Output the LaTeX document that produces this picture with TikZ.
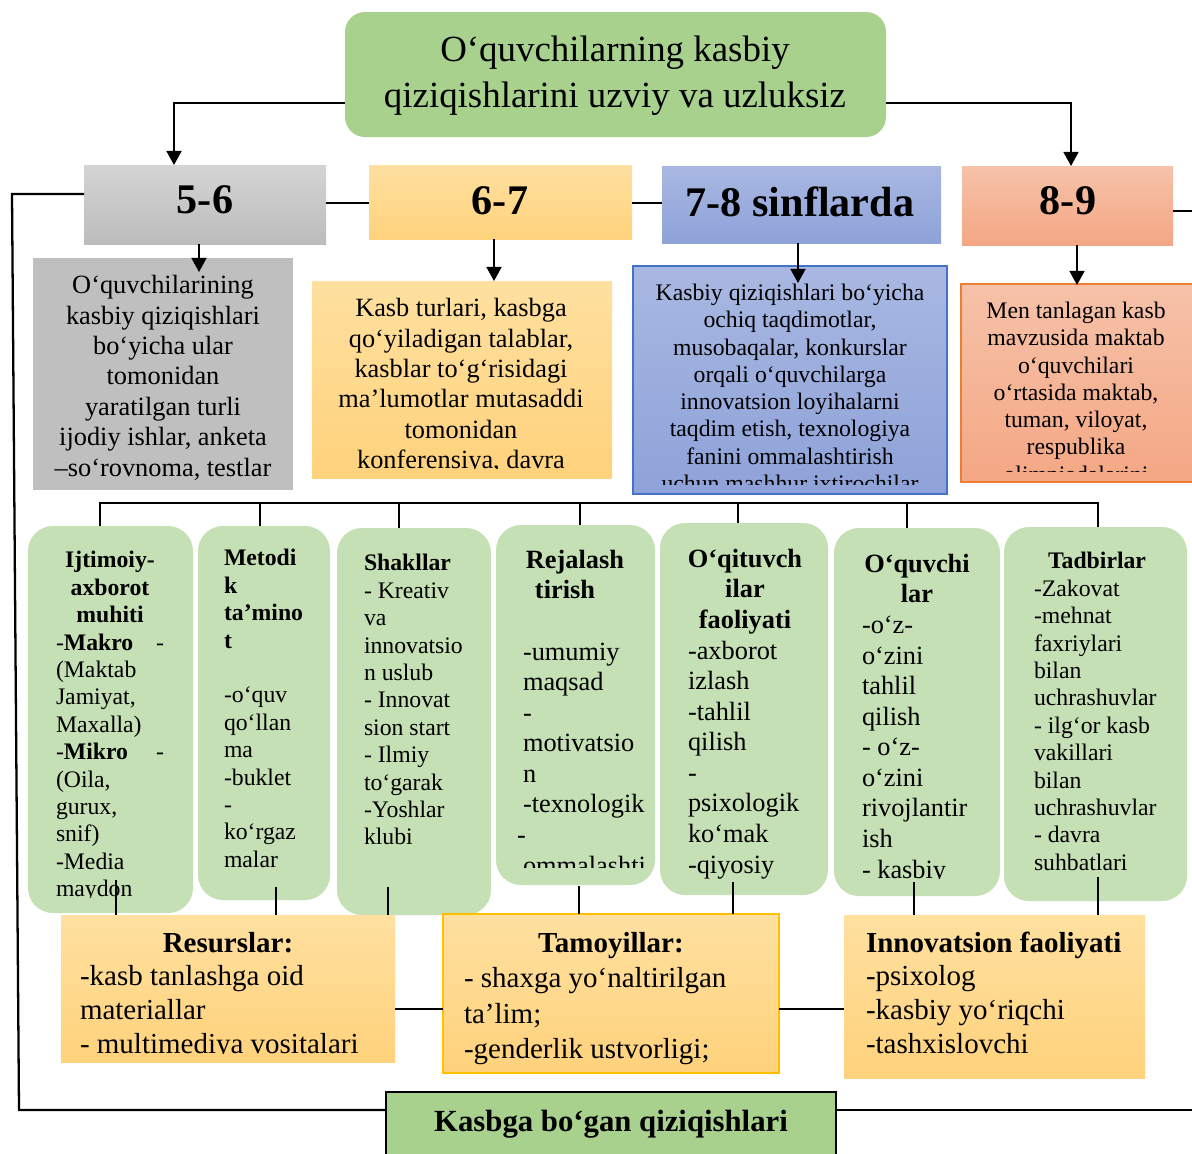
\documentclass[tikz,border=0pt]{standalone}
\usepackage{fontspec}
\setmainfont{Liberation Serif}
\usetikzlibrary{arrows.meta,fit}
\definecolor{titlegreen}{HTML}{A9D18E}
\definecolor{boxgreen}{HTML}{C5E0B4}
\definecolor{grayA}{HTML}{D4D4D4}
\definecolor{grayB}{HTML}{BCBCBC}
\definecolor{descgray}{HTML}{BFBFBF}
\definecolor{orA}{HTML}{FFE0A0}
\definecolor{orB}{HTML}{FFD27C}
\definecolor{blA}{HTML}{A9B8E2}
\definecolor{blB}{HTML}{8EA2D9}
\definecolor{blborder}{HTML}{4472C4}
\definecolor{saA}{HTML}{F6C2A9}
\definecolor{saB}{HTML}{F4A784}
\definecolor{saborder}{HTML}{ED7D31}
\definecolor{gold}{HTML}{FFC000}
\newcommand\fs[2]{\fontsize{#1}{#2}\selectfont}
\begin{document}
\begin{tikzpicture}[x=0.02cm,y=-0.02cm,
  box/.style={inner sep=0pt, outer sep=0pt, draw=none},
  conn/.style={line width=1.1pt, black},
  arr/.style={conn, -{Triangle[length=8pt,width=8.5pt]}},
  txt/.style={inner sep=0pt, outer sep=0pt, anchor=north west, align=left},
  ctxt/.style={inner sep=0pt, outer sep=0pt, anchor=north, align=center},
  gradelabel/.style={inner sep=0pt, outer sep=0pt, font=\bfseries\fs{24}{28}},
  orangebox/.style={box, top color=orA, bottom color=orB},
  greenbox/.style={box, fill=boxgreen, rounded corners=0.5cm},
  small/.style={font=\fs{13.5}{15.6}},
  mid/.style={font=\fs{15}{17.4}},
  large/.style={font=\fs{16.5}{19.3}}
]
\fill[white] (0,0) rectangle (1192,1153);
\useasboundingbox (0,0) rectangle (1192,1153);

% title
\node[box, fill=titlegreen, rounded corners=0.4cm, fit={(345,12)(886,137)}] (title) {};
\node[ctxt, font=\fs{21}{26}] (titletext) at (615,29.5) {\strut O‘quvchilarning kasbiy\\qiziqishlarini uzviy va uzluksiz};

% grade boxes
\node[box, top color=grayA, bottom color=grayB, fit={(84,165)(326,244)}] (g56) {};
\node[box, top color=orA, bottom color=orB, fit={(369,165)(632,239)}] (g67) {};
\node[box, top color=blA, bottom color=blB, fit={(662,166)(941,243)}] (g78) {};
\node[box, top color=saA, bottom color=saB, fit={(962,166)(1173,245)}] (g89) {};
\node[gradelabel] (l56) at (205,200) {5-6};
\node[gradelabel] (l67) at (500,201) {6-7};
\node[gradelabel] (l78) at (800,202) {7-8 sinflarda};
\node[gradelabel] (l89) at (1068,201) {8-9};

% description boxes
\node[box, fill=descgray, fit={(33,258)(293,490)}] (d56) {};
\node[orangebox, fit={(312,281)(612,478)}] (d67) {};
\node[box, top color=blA, bottom color=blB, draw=blborder, line width=0.9pt, fit={(633,266)(947,494)}] (d78) {};
\node[box, top color=saA, bottom color=saB, draw=saborder, line width=0.9pt, fit={(961,284)(1198,482)}] (d89) {};

\node[ctxt, font=\fs{15}{17.3}] (t56) at (163,272.5) {\strut O‘quvchilarining\\kasbiy qiziqishlari\\bo‘yicha ular\\tomonidan\\yaratilgan turli\\ijodiy ishlar, anketa\\–so‘rovnoma, testlar};
\begin{scope}
\clip (312,281) rectangle (612,468);
\node[ctxt, font=\fs{15}{17.3}] (t67) at (461,295.5) {\strut Kasb turlari, kasbga\\qo‘yiladigan talablar,\\kasblar to‘g‘risidagi\\ma’lumotlar mutasaddi\\tomonidan\\konferensiya, davra};
\end{scope}
\begin{scope}
\clip (633,266) rectangle (947,484);
\node[ctxt, font=\fs{13.5}{15.5}] (t78) at (790,281.6) {\strut Kasbiy qiziqishlari bo‘yicha\\ochiq taqdimotlar,\\musobaqalar, konkurslar\\orqali o‘quvchilarga\\innovatsion loyihalarni\\taqdim etish, texnologiya\\fanini ommalashtirish\\uchun mashhur ixtirochilar};
\end{scope}
\begin{scope}
\clip (961,284) rectangle (1192,471);
\node[ctxt, font=\fs{13.5}{15.5}] (t89) at (1076,299.6) {\strut Men tanlagan kasb\\mavzusida maktab\\o‘quvchilari\\o‘rtasida maktab,\\tuman, viloyat,\\respublika\\olimpiadalarini};
\end{scope}

% green boxes
\node[greenbox, fit={(28,526)(193,913)}] (gb1) {};
\node[greenbox, fit={(198,526)(330,900)}] (gb2) {};
\node[greenbox, fit={(337,528)(491,915)}] (gb3) {};
\node[greenbox, fit={(496,525)(655,885)}] (gb4) {};
\node[greenbox, fit={(660,523)(828,895)}] (gb5) {};
\node[greenbox, fit={(834,528)(1000,896)}] (gb6) {};
\node[greenbox, fit={(1004,527)(1187,901)}] (gb7) {};

\begin{scope}
\clip (28,526) rectangle (193,897);
\node[txt, small] (gt1) at (56,548.6) {\strut\makebox[2.16cm]{\bfseries Ijtimoiy-}\\\makebox[2.16cm]{\bfseries axborot}\\\makebox[2.16cm]{\bfseries muhiti}\\\makebox[2.16cm][l]{-\textbf{Makro}\hfill-}\\(Maktab\\Jamiyat,\\Maxalla)\\\makebox[2.16cm][l]{-\textbf{Mikro}\hfill-}\\(Oila,\\gurux,\\snif)\\-Media\\maydon};
\end{scope}
\node[txt, small] (gt2) at (224,546.6) {\strut\textbf{Metodi}\\\textbf{k}\\\textbf{ta’mino}\\\textbf{t}\\\mbox{}\\-o‘quv\\qo‘llan\\ma\\-buklet\\-\\ko‘rgaz\\malar};
\node[txt, small] (gt3) at (364,551.6) {\strut\textbf{Shakllar}\\- Kreativ\\va\\innovatsio\\n uslub\\- Innovat\\sion start\\- Ilmiy\\to‘garak\\-Yoshlar\\klubi};
\begin{scope}
\clip (496,525) rectangle (648,867);
\node[txt, mid] (gt4) at (523,547) {\strut\makebox[2.08cm]{\bfseries Rejalash}\\\makebox[2.08cm]{\bfseries tirish\kern0.4cm}\\\mbox{}\\-umumiy\\maqsad\\-\\motivatsio\\n\\-texnologik\\\kern-0.12cm-\\ommalashti};
\end{scope}
\node[txt, mid] (gt5) at (688,546) {\strut\makebox[2.28cm]{\bfseries O‘qituvch}\\\makebox[2.28cm]{\bfseries ilar}\\\makebox[2.28cm]{\bfseries faoliyati}\\-axborot\\izlash\\-tahlil\\qilish\\-\\psixologik\\ko‘mak\\-qiyosiy};
\begin{scope}
\clip (834,528) rectangle (1000,878);
\node[txt, mid] (gt6) at (862,551) {\strut\makebox[2.2cm]{\bfseries O‘quvchi}\\\makebox[2.2cm]{\bfseries lar}\\-o‘z-\\o‘zini\\tahlil\\qilish\\- o‘z-\\o‘zini\\rivojlantir\\ish\\- kasbiy};
\end{scope}
\node[txt, small] (gt7) at (1034,549.6) {\strut\makebox[2.52cm]{\bfseries Tadbirlar}\\-Zakovat\\-mehnat\\faxriylari\\bilan\\uchrashuvlar\\- ilg‘or kasb\\vakillari\\bilan\\uchrashuvlar\\- davra\\suhbatlari};

% bottom boxes
\node[orangebox, fit={(61,915)(395,1062)}] (res) {};
\node[orangebox, draw=gold, line width=0.9pt, fit={(443,914)(779,1073)}] (tam) {};
\node[orangebox, fit={(844,915)(1145,1078)}] (inn) {};
\begin{scope}
\clip (61,915) rectangle (395,1053);
\node[txt, large] (rt) at (80,928.3) {\strut\makebox[5.92cm]{\bfseries Resurslar:}\\-kasb tanlashga oid\\materiallar\\- multimediya vositalari};
\end{scope}
\node[txt, font=\fs{16.5}{20.2}] (tt) at (464,927.2) {\strut\makebox[5.88cm]{\bfseries Tamoyillar:}\\- shaxga yo‘naltirilgan\\ta’lim;\\-genderlik ustvorligi;};
\node[txt, large] (it) at (866,928.3) {\strut\textbf{Innovatsion faoliyati}\\-psixolog\\-kasbiy yo‘riqchi\\-tashxislovchi};

\node[box, fill=titlegreen, draw=black, line width=1.3pt, fit={(386,1092)(836,1170)}] (kas) {};
\node[inner sep=0pt, anchor=base, font=\bfseries\fs{17.5}{21}] (kastext) at (611,1131) {Kasbga bo‘gan qiziqishlari};

% connectors: title to grades
\coordinate (c1) at (174,103);
\coordinate (c2) at (1071,103);
\draw[arr] (title.west |- c1) -- (c1) -- (c1 |- g56.north);
\draw[arr] (title.east |- c2) -- (c2) -- (c2 |- g89.north);

% between grades
\coordinate (h1) at (0,203);
\coordinate (eR1) at (1192,211);
\draw[conn] (g56.east |- h1) -- (g67.west |- h1);
\draw[conn] (g67.east |- h1) -- (g78.west |- h1);
\draw[conn] (g89.east |- eR1) -- (eR1);

% outer loop
\coordinate (L1) at (12,194);
\coordinate (L2) at (19,1110);
\coordinate (eR2) at (1192,1110);
\draw[conn, line width=1.3pt] (g56.west |- L1) -- (L1) -- (L2) -- (kas.west |- L2);
\draw[conn, line width=1.3pt] (kas.east |- eR2) -- (eR2);

% grade to description arrows
\coordinate (a1) at (199,272);
\coordinate (a2) at (494,281);
\coordinate (a3) at (798,283);
\coordinate (a4) at (1077,285);
\draw[arr] (a1 |- g56.south) -- (a1);
\draw[arr] (a2 |- g67.south) -- (a2);
\draw[arr] (a3 |- g78.south) -- (a3);
\draw[arr] (a4 |- g89.south) -- (a4);

% bus over green boxes
\coordinate (b1) at (100,503);
\coordinate (b2) at (260,503);
\coordinate (b3) at (399,503);
\coordinate (b4) at (580,503);
\coordinate (b5) at (738,503);
\coordinate (b6) at (907,503);
\coordinate (b7) at (1098,503);
\draw[conn] (b1 |- gb1.north) -- (b1) -- (b7) -- (b7 |- gb7.north);
\draw[conn] (b2) -- (b2 |- gb2.north);
\draw[conn] (b3) -- (b3 |- gb3.north);
\draw[conn] (b4) -- (b4 |- gb4.north);
\draw[conn] (b5) -- (b5 |- gb5.north);
\draw[conn] (b6) -- (b6 |- gb6.north);

% ticks from green boxes to bottom boxes
\coordinate (u1) at (116,880);
\coordinate (u2) at (276,887);
\coordinate (u3) at (388,887);
\coordinate (u4) at (579,886);
\coordinate (u5) at (733,882);
\coordinate (u6) at (914,882);
\coordinate (u7) at (1098,877);
\draw[conn] (u1) -- (u1 |- res.north);
\draw[conn] (u2) -- (u2 |- res.north);
\draw[conn] (u3) -- (u3 |- res.north);
\draw[conn] (u4) -- (u4 |- tam.north);
\draw[conn] (u5) -- (u5 |- tam.north);
\draw[conn] (u6) -- (u6 |- inn.north);
\draw[conn] (u7) -- (u7 |- inn.north);

% links between bottom boxes
\coordinate (m1) at (0,1009);
\draw[conn] (res.east |- m1) -- (tam.west |- m1);
\draw[conn] (tam.east |- m1) -- (inn.west |- m1);
\end{tikzpicture}
\end{document}
